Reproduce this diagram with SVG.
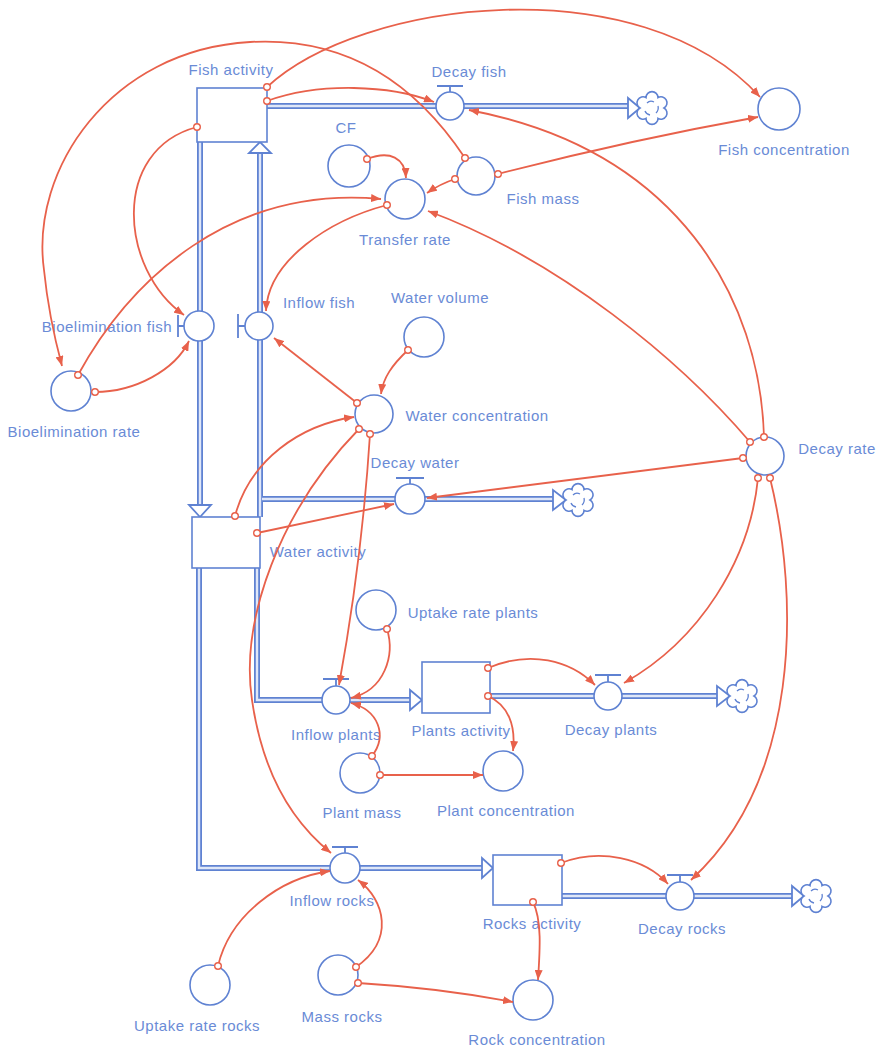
<svg xmlns="http://www.w3.org/2000/svg" width="881" height="1054" viewBox="0 0 881 1054">
<style>
.po{fill:none;stroke:#5f82d2;stroke-width:6}
.pi{fill:none;stroke:#dfe7f8;stroke-width:2.4}
.nd{fill:#fff;stroke:#5f82d2;stroke-width:1.6}
.bar{fill:none;stroke:#5f82d2;stroke-width:1.8}
.tri{fill:#fff;stroke:#5f82d2;stroke-width:1.8;stroke-linejoin:miter}
.lbl{font-family:"Liberation Sans",Arial,sans-serif;font-size:15px;letter-spacing:0.5px;fill:#6a8bd6;text-anchor:middle}
.lk{fill:none;stroke:#e8614b;stroke-width:1.8;marker-start:url(#o);marker-end:url(#a)}
</style>
<defs>
<marker id="a" viewBox="0 0 10 8" refX="10" refY="4" markerWidth="10" markerHeight="8" markerUnits="userSpaceOnUse" orient="auto"><path d="M0,0 L10,4 L0,8 Z" fill="#e8614b"/></marker>
<marker id="o" viewBox="-5 -5 10 10" refX="0" refY="0" markerWidth="10" markerHeight="10" markerUnits="userSpaceOnUse"><circle r="3.3" fill="#fff" stroke="#e8614b" stroke-width="1.4"/></marker>
<g id="cloud">
<path d="M12,0 A6,6 0 0 1 6,10.4 A6,6 0 0 1 -6,10.4 A6,6 0 0 1 -12,0 A6,6 0 0 1 -6,-10.4 A6,6 0 0 1 6,-10.4 A6,6 0 0 1 12,0 Z" fill="#fff" stroke="#5f82d2" stroke-width="1.6"/>
<path d="M-5,-5 q3,-3 7,-1 M6,-2 q1,4 -2,7 M-7,3 q1,3 5,4" fill="none" stroke="#5f82d2" stroke-width="1.3"/>
</g>
<path id="p1" d="M267,106 H628"/>
<path id="p2" d="M200,142 V505"/>
<path id="p3" d="M260,517 V152"/>
<path id="p4" d="M262,499 H553"/>
<path id="p5" d="M257,568 V700 H410"/>
<path id="p6" d="M199,568 V868 H482"/>
<path id="p7" d="M490,696 H717"/>
<path id="p8" d="M562,896 H792"/>
</defs>

<g id="connectors">
<g id="flows">
<use href="#p1" class="po"/><use href="#p1" class="pi"/>
<use href="#p2" class="po"/><use href="#p2" class="pi"/>
<use href="#p3" class="po"/><use href="#p3" class="pi"/>
<use href="#p4" class="po"/><use href="#p4" class="pi"/>
<use href="#p5" class="po"/><use href="#p5" class="pi"/>
<use href="#p6" class="po"/><use href="#p6" class="pi"/>
<use href="#p7" class="po"/><use href="#p7" class="pi"/>
<use href="#p8" class="po"/><use href="#p8" class="pi"/>
<polygon class="tri" points="189,505 211,505 200,517"/>
<polygon class="tri" points="249,153 271,153 260,142"/>
<polygon class="tri" points="410,690 410,710 422,700"/>
<polygon class="tri" points="482,858 482,878 493,868"/>
</g>
</g>

<g id="fish-activity"><rect class="nd" x="197" y="88" width="70" height="54"/><text class="lbl" x="231" y="75">Fish activity</text></g>
<g id="decay-fish"><circle class="nd" cx="450" cy="106" r="14"/><path class="bar" d="M437,86 H463 M450,86 V92"/><text class="lbl" x="469" y="77">Decay fish</text></g>
<g id="fish-sink"><polygon class="tri" points="628,98 628,118 640,108"/><use href="#cloud" transform="translate(652,108)"/></g>
<g id="fish-concentration"><circle class="nd" cx="779" cy="109" r="21"/><text class="lbl" x="784" y="155">Fish concentration</text></g>
<g id="cf"><circle class="nd" cx="349" cy="166" r="21"/><text class="lbl" x="346" y="133">CF</text></g>
<g id="transfer-rate"><circle class="nd" cx="405" cy="199" r="20"/><text class="lbl" x="405" y="245">Transfer rate</text></g>
<g id="fish-mass"><circle class="nd" cx="476" cy="176" r="19"/><text class="lbl" x="543" y="204">Fish mass</text></g>
<g id="bioelimination-fish"><circle class="nd" cx="199" cy="326" r="15"/><path class="bar" d="M178,315 V337 M178,326 H184"/><text class="lbl" x="107" y="332">Bioelimination fish</text></g>
<g id="inflow-fish"><circle class="nd" cx="259" cy="326" r="14"/><path class="bar" d="M238,314 V338 M238,326 H245"/><text class="lbl" x="319" y="308">Inflow fish</text></g>
<g id="water-volume"><circle class="nd" cx="424" cy="337" r="20"/><text class="lbl" x="440" y="303">Water volume</text></g>
<g id="bioelimination-rate"><circle class="nd" cx="71" cy="391" r="20"/><text class="lbl" x="74" y="437">Bioelimination rate</text></g>
<g id="water-concentration"><circle class="nd" cx="374" cy="414" r="19"/><text class="lbl" x="477" y="421">Water concentration</text></g>
<g id="decay-water"><circle class="nd" cx="410" cy="499" r="15"/><path class="bar" d="M396,478 H424 M410,478 V484"/><text class="lbl" x="415" y="468">Decay water</text></g>
<g id="water-sink"><polygon class="tri" points="553,490 553,510 566,500"/><use href="#cloud" transform="translate(578,500)"/></g>
<g id="water-activity"><rect class="nd" x="192" y="517" width="68" height="51"/><text class="lbl" x="318" y="557">Water activity</text></g>
<g id="decay-rate"><circle class="nd" cx="765" cy="456" r="19"/><text class="lbl" x="837" y="454">Decay rate</text></g>
<g id="uptake-rate-plants"><circle class="nd" cx="376" cy="610" r="20"/><text class="lbl" x="473" y="618">Uptake rate plants</text></g>
<g id="inflow-plants"><circle class="nd" cx="336" cy="700" r="14"/><path class="bar" d="M323,679 H349 M336,679 V686"/><text class="lbl" x="336" y="740">Inflow plants</text></g>
<g id="plants-activity"><rect class="nd" x="422" y="662" width="68" height="51"/><text class="lbl" x="461" y="736">Plants activity</text></g>
<g id="decay-plants"><circle class="nd" cx="608" cy="696" r="14"/><path class="bar" d="M595,675 H621 M608,675 V682"/><text class="lbl" x="611" y="735">Decay plants</text></g>
<g id="plants-sink"><polygon class="tri" points="717,686 717,706 730,696"/><use href="#cloud" transform="translate(742,696)"/></g>
<g id="plant-mass"><circle class="nd" cx="360" cy="773" r="20"/><text class="lbl" x="362" y="818">Plant mass</text></g>
<g id="plant-concentration"><circle class="nd" cx="503" cy="771" r="20"/><text class="lbl" x="506" y="816">Plant concentration</text></g>
<g id="inflow-rocks"><circle class="nd" cx="345" cy="868" r="15"/><path class="bar" d="M332,847 H358 M345,847 V853"/><text class="lbl" x="332" y="906">Inflow rocks</text></g>
<g id="rocks-activity"><rect class="nd" x="493" y="855" width="69" height="50"/><text class="lbl" x="532" y="929">Rocks activity</text></g>
<g id="decay-rocks"><circle class="nd" cx="680" cy="896" r="14"/><path class="bar" d="M667,875 H693 M680,875 V882"/><text class="lbl" x="682" y="934">Decay rocks</text></g>
<g id="rocks-sink"><polygon class="tri" points="792,886 792,906 804,896"/><use href="#cloud" transform="translate(816,896)"/></g>
<g id="uptake-rate-rocks"><circle class="nd" cx="210" cy="985" r="20"/><text class="lbl" x="197" y="1031">Uptake rate rocks</text></g>
<g id="mass-rocks"><circle class="nd" cx="338" cy="975" r="20"/><text class="lbl" x="342" y="1022">Mass rocks</text></g>
<g id="rock-concentration"><circle class="nd" cx="533" cy="1000" r="20"/><text class="lbl" x="537" y="1045">Rock concentration</text></g>

<g id="links">
<path class="lk" d="M267,87 C360,0 640,-35 760,97"/>
<path class="lk" d="M267,101 C320,82 390,85 434,102"/>
<path class="lk" d="M465,158 C400,60 320,38 250,42 C110,50 30,170 44,270 C48,310 55,340 62,366"/>
<path class="lk" d="M197,127 C110,150 120,270 184,315"/>
<path class="lk" d="M78,375 C130,280 230,185 381,199"/>
<path class="lk" d="M387,205 C330,220 268,260 266,311"/>
<path class="lk" d="M95,392 C135,392 175,370 189,341"/>
<path class="lk" d="M367,159 C390,150 405,158 406,178"/>
<path class="lk" d="M455,179 Q440,184 427,193"/>
<path class="lk" d="M498,174 Q630,140 758,117"/>
<path class="lk" d="M764,437 C760,300 680,150 469,110"/>
<path class="lk" d="M750,442 C680,360 560,260 428,211"/>
<path class="lk" d="M743,458 L427,498"/>
<path class="lk" d="M758,478 C750,560 700,640 624,683"/>
<path class="lk" d="M770,478 C800,600 800,780 691,880"/>
<path class="lk" d="M408,350 C392,365 383,378 381,394"/>
<path class="lk" d="M357,403 L274,338"/>
<path class="lk" d="M235,516 C250,460 300,425 354,417"/>
<path class="lk" d="M257,533 L394,504"/>
<path class="lk" d="M359,429 C280,510 240,620 252,700 C262,770 290,820 331,853"/>
<path class="lk" d="M370,434 Q362,560 339,685"/>
<path class="lk" d="M387,629 C395,655 385,690 351,698"/>
<path class="lk" d="M372,756 C388,735 378,710 351,703"/>
<path class="lk" d="M380,775 L483,775"/>
<path class="lk" d="M488,668 C530,650 570,660 595,685"/>
<path class="lk" d="M488,696 C508,705 516,725 513,751"/>
<path class="lk" d="M561,863 C600,848 645,858 668,884"/>
<path class="lk" d="M533,902 C542,920 540,950 538,980"/>
<path class="lk" d="M218,966 C230,915 280,878 330,871"/>
<path class="lk" d="M356,967 C395,940 385,900 358,880"/>
<path class="lk" d="M358,983 Q440,988 513,1002"/>
</g>
</svg>
